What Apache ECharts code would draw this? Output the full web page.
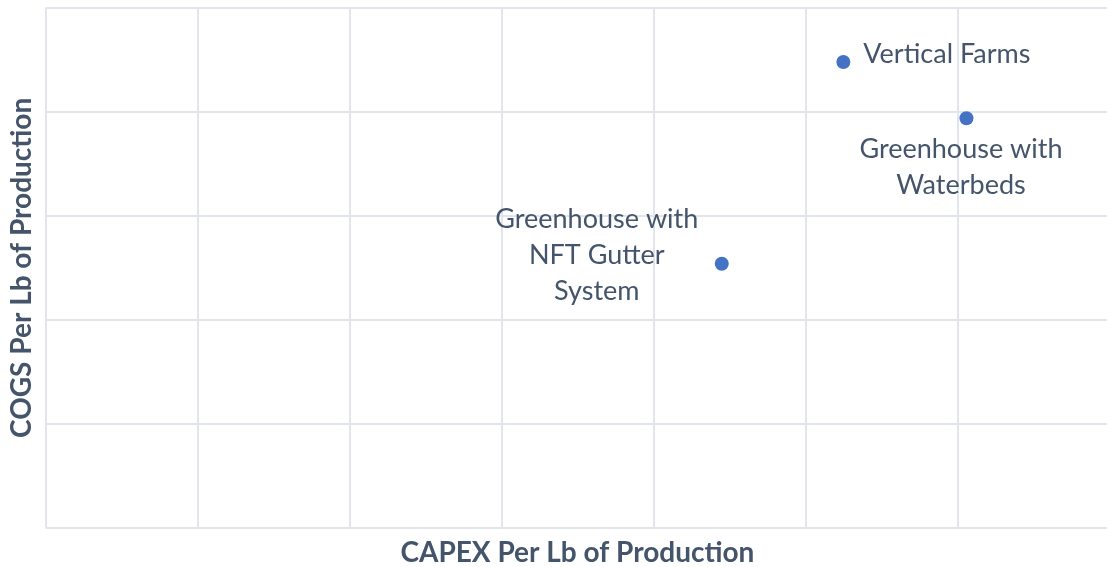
<!DOCTYPE html>
<html>
<head>
<meta charset="utf-8">
<script src="https://cdn.jsdelivr.net/npm/echarts@6/dist/echarts.min.js"></script>
<style>
  html, body { margin: 0; padding: 0; background: #fff; }
  #chart { width: 1107px; height: 567px; }
</style>
</head>
<body>
<div id="chart"></div>
<script>
// values (axes carry no tick labels, so units are relative)
const names = ['Vertical Farms', 'Greenhouse with Waterbeds', 'Greenhouse with NFT Gutter System'];
const labels = ['Vertical Farms', 'Greenhouse with\nWaterbeds', 'Greenhouse with\nNFT Gutter\nSystem'];
const capex = [52.5, 60.6, 44.5];
const cogs = [4.48, 3.94, 2.54];

const textColor = '#44546A';
const font = 'Lato';

// label placement per point
const labelStyles = [
  { position: 'right', distance: 13, offset: [0, -8] },
  { position: [1.5, 56.5], align: 'center', verticalAlign: 'middle' },
  { position: [-118, -1], align: 'center', verticalAlign: 'middle' }
];

const chart = echarts.init(document.getElementById('chart'));

const option = {
  animation: false,
  grid: {
    left: 45.5,
    top: 8,
    right: -2.3,
    bottom: 39.3,
    outerBoundsMode: 'none'
  },
  xAxis: {
    type: 'value',
    min: 0,
    max: 70,
    interval: 10,
    name: 'CAPEX Per Lb of Production',
    nameLocation: 'middle',
    nameGap: 11,
    nameTextStyle: {
      fontFamily: font,
      fontWeight: 'bold',
      fontSize: 28,
      color: textColor
    },
    axisLine: { show: false },
    axisTick: { show: false },
    axisLabel: { show: false },
    splitLine: { lineStyle: { color: '#E2E6EC', width: 2 } }
  },
  yAxis: {
    type: 'value',
    min: 0,
    max: 5,
    interval: 1,
    name: 'COGS Per Lb of Production',
    nameLocation: 'middle',
    nameGap: 10,
    nameTextStyle: {
      fontFamily: font,
      fontWeight: 'bold',
      fontSize: 28,
      color: textColor
    },
    axisLine: { show: false },
    axisTick: { show: false },
    axisLabel: { show: false },
    splitLine: { lineStyle: { color: '#E2E6EC', width: 2 } }
  },
  series: [
    {
      type: 'scatter',
      symbol: 'circle',
      symbolSize: 14,
      itemStyle: { color: '#4472C4', opacity: 1 },
      label: {
        show: true,
        fontFamily: font,
        fontSize: 27,
        lineHeight: 36,
        color: textColor,
        formatter: (p) => labels[p.dataIndex]
      },
      data: names.map((n, i) => ({
        name: n,
        value: [capex[i], cogs[i]],
        label: labelStyles[i]
      }))
    }
  ]
};

chart.setOption(option);
</script>
</body>
</html>
